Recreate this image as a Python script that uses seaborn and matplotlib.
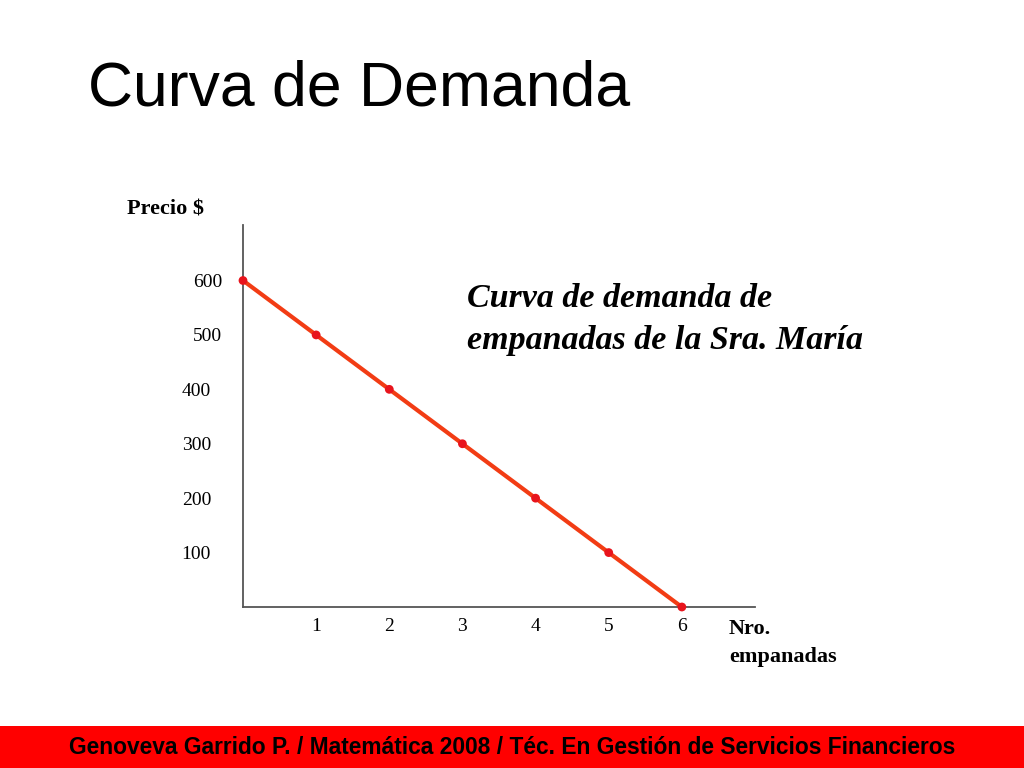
import matplotlib
matplotlib.use("Agg")
import matplotlib.pyplot as plt
import matplotlib.transforms as mtransforms
import seaborn as sns
import pandas as pd

# Data
cantidad = [0, 1, 2, 3, 4, 5, 6]
precio = [600, 500, 400, 300, 200, 100, 0]
x_ticks = [1, 2, 3, 4, 5, 6]
y_ticks = [100, 200, 300, 400, 500, 600]

title = "Curva de Demanda"
annotation_lines = ["Curva de demanda de", "empanadas de la Sra. María"]
footer = "Genoveva Garrido P. / Matemática 2008 / Téc. En Gestión de Servicios Financieros"

df = pd.DataFrame({"cantidad": cantidad, "precio": precio})

sns.set_theme(style="white")
plt.rcParams["font.family"] = ["Liberation Serif", "DejaVu Serif"]
plt.rcParams["text.color"] = "black"
plt.rcParams["xtick.color"] = "black"
plt.rcParams["ytick.color"] = "black"

fig = plt.figure(figsize=(10.24, 7.68), dpi=100)
ax = fig.add_axes([243 / 1024, 1 - 607 / 768, 512 / 1024, (607 - 225) / 768])

sns.lineplot(data=df, x="cantidad", y="precio", ax=ax, color="#f23c14",
             linewidth=3.0, zorder=2)
sns.scatterplot(data=df, x="cantidad", y="precio", ax=ax, color="#e8141c",
                s=40, edgecolor="none", zorder=3, clip_on=False)

ax.set_xlim(0, 7.0)
ax.set_ylim(0, 702)
ax.set_xticks(x_ticks)
ax.set_yticks(y_ticks)
ax.set_xticklabels([str(v) for v in x_ticks], fontsize=14, family="Liberation Serif", color="black")
ax.set_yticklabels([str(v) for v in y_ticks], fontsize=14, family="Liberation Serif", color="black")
ax.tick_params(axis="x", length=0, pad=8)
ax.tick_params(axis="y", length=0, pad=23)
# the two top labels sit a little further right in the original slide
for lab in ax.get_yticklabels():
    if lab.get_text() in ("500", "600"):
        lab.set_transform(lab.get_transform() +
                          mtransforms.ScaledTranslation(11 / 100, 0, fig.dpi_scale_trans))
ax.set_xlabel("")
ax.set_ylabel("")
for side in ["top", "right"]:
    ax.spines[side].set_visible(False)
for side in ["left", "bottom"]:
    ax.spines[side].set_color("#555555")
    ax.spines[side].set_linewidth(1.3)

# Axis titles
fig.text(127 / 1024, 1 - 215 / 768, "Precio $", fontsize=16, fontweight="bold",
         family="Liberation Serif", ha="left", va="baseline")
fig.text(729 / 1024, 1 - 634 / 768, "Nro.", fontsize=16, fontweight="bold",
         family="Liberation Serif", ha="left", va="baseline")
fig.text(729 / 1024, 1 - 662 / 768, "empanadas", fontsize=16, fontweight="bold",
         family="Liberation Serif", ha="left", va="baseline")

# Annotation
for line, base in zip(annotation_lines, [307, 349]):
    fig.text(467 / 1024, 1 - base / 768, line, fontsize=24.5, fontweight="bold",
             fontstyle="italic", family="Liberation Serif", ha="left", va="baseline")

# Title
fig.text(88 / 1024, 1 - 105 / 768, title, fontsize=45, family="Liberation Sans",
         ha="left", va="baseline", color="black")

# Footer band
fig.patches.append(plt.Rectangle((0, 0), 1, 42 / 768, transform=fig.transFigure,
                                 facecolor="#ff0000", edgecolor="none", zorder=0))
fig.text(0.5, 1 - 748 / 768, footer, fontsize=16.4, fontweight="bold",
         family="Liberation Sans", ha="center", va="center", color="black")

fig.savefig("out.png", dpi=100, facecolor="white")
